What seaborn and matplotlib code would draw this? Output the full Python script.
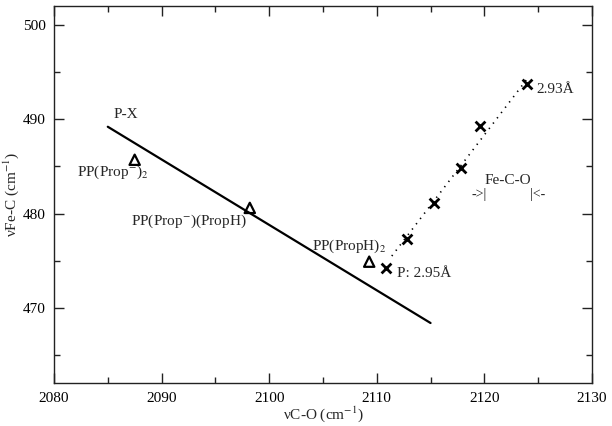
import numpy as np
import pandas as pd
import seaborn as sns
import matplotlib
matplotlib.use("Agg")
import matplotlib.pyplot as plt

# Data
line_x = [2085.0, 2115.0]          # P-X correlation line
line_y = [489.2, 468.4]

tri_x = [2087.5, 2098.2, 2109.3]   # PP(...) complexes
tri_y = [485.7, 480.6, 474.9]
tri_labels = ["PP(Prop$^{-}$)$_2$", "PP(Prop$^{-}$)(PropH)", "PP(PropH)$_2$"]

cross_x = [2110.9, 2112.8, 2115.3, 2117.8, 2119.6, 2124.0]  # Fe-C-O scan
cross_y = [474.2, 477.3, 481.1, 484.8, 489.3, 493.7]

fit_x = [2111.4, 2124.0]
fit_y = [475.5, 494.3]

sns.set_style("ticks")
plt.rcParams['font.family'] = ['Liberation Serif', 'DejaVu Serif']
plt.rcParams['mathtext.fontset'] = 'stix'
plt.rcParams['font.size'] = 11

fig = plt.figure(figsize=(6.12, 4.26), dpi=100)
ax = fig.add_axes([0.0882, 0.100, 0.879, 0.886])

df_line = pd.DataFrame({'x': line_x, 'y': line_y})
sns.lineplot(data=df_line, x='x', y='y', ax=ax, color='black', linewidth=1.6)

df_fit = pd.DataFrame({'x': fit_x, 'y': fit_y})
sns.lineplot(data=df_fit, x='x', y='y', ax=ax, color='black', linewidth=1.2,
             linestyle=(0, (0.8, 3.2)))

df_tri = pd.DataFrame({'x': tri_x, 'y': tri_y})
sns.scatterplot(data=df_tri, x='x', y='y', ax=ax, marker='^', s=55,
                facecolor='none', edgecolor='black', linewidth=1.6, zorder=5)

df_cross = pd.DataFrame({'x': cross_x, 'y': cross_y})
sns.scatterplot(data=df_cross, x='x', y='y', ax=ax, marker='x', s=50,
                color='black', linewidth=2, zorder=5)

# annotations
ax.text(2085.5, 490.1, "P-X", fontsize=11)
ax.text(2082.1, 484.0, tri_labels[0], fontsize=11, va='baseline')
ax.text(2087.2, 478.8, tri_labels[1], fontsize=11, va='baseline')
ax.text(2103.95, 476.2, tri_labels[2], fontsize=11, va='baseline')
ax.text(2111.85, 473.3, "P: 2.95Å", fontsize=11, va='baseline')
ax.text(2124.85, 492.8, "2.93Å", fontsize=11, va='baseline')
ax.text(2120.05, 483.1, "Fe-C-O", fontsize=11, va='baseline')
ax.text(2118.8, 481.7, "->|", fontsize=10, va='baseline')
ax.text(2124.2, 481.7, "|<-", fontsize=10, va='baseline')

ax.set_xlim(2080, 2130)
ax.set_ylim(462, 502)
ax.set_xticks(np.arange(2080, 2131, 10))
ax.set_yticks(np.arange(470, 501, 10))
ax.set_xticks(np.arange(2085, 2130, 10), minor=True)
ax.set_yticks(np.arange(465, 501, 10), minor=True)
ax.tick_params(which='both', direction='in', top=True, right=True, colors='#222222',
               labelcolor='black', labelsize=11)
ax.tick_params(which='major', length=7, width=1, pad=6)
ax.tick_params(which='minor', length=4, width=1)
for sp in ax.spines.values():
    sp.set_visible(True)
    sp.set_linewidth(1)
    sp.set_color('#222222')

ax.set_xlabel("νC-O (cm$^{-1}$)", fontsize=11, labelpad=0)
ax.set_ylabel("νFe-C (cm$^{-1}$)", fontsize=11)
ax.yaxis.set_label_coords(-0.061, 0.5)

fig.savefig("out.png", dpi=100)
